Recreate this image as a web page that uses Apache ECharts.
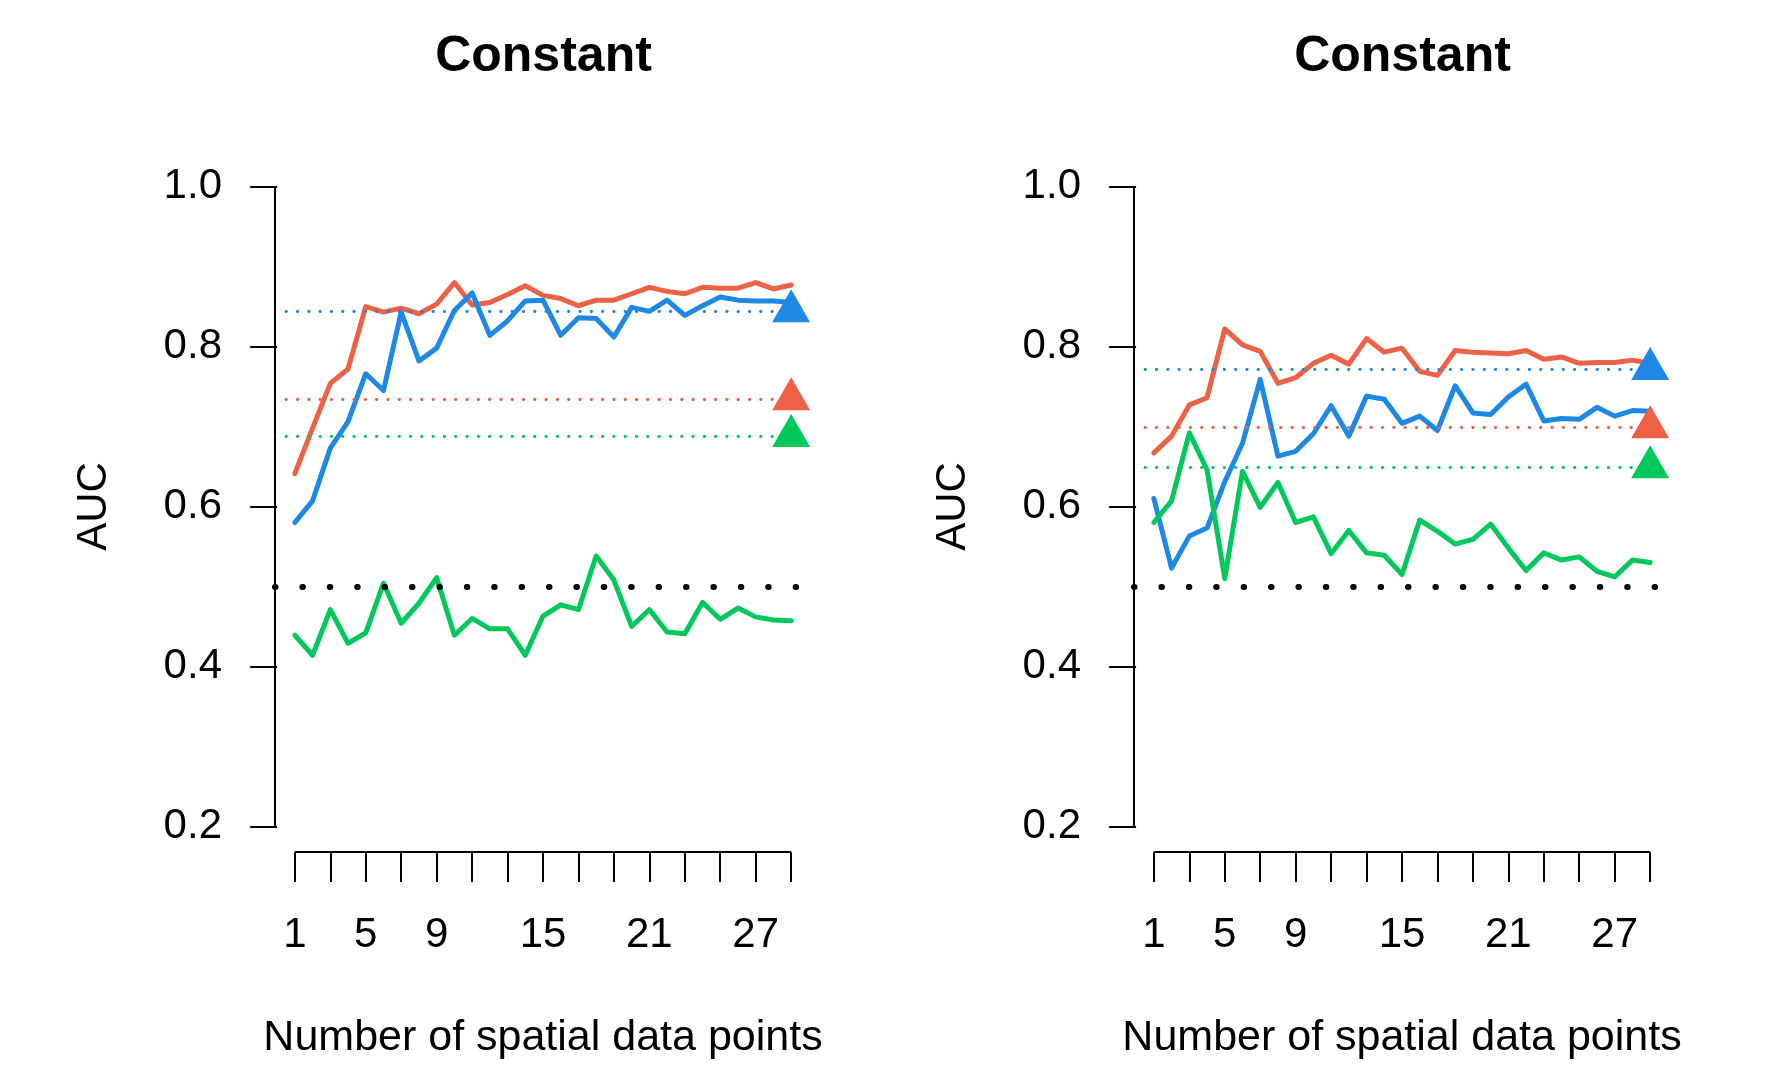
<!DOCTYPE html>
<html>
<head>
<meta charset="utf-8">
<script src="https://cdn.jsdelivr.net/npm/echarts@6/dist/echarts.min.js"></script>
<style>
html,body{margin:0;padding:0;background:#fff;}
#chart{width:1768px;height:1066px;}
</style>
</head>
<body>
<div id="chart"></div>
<script>
// ---- data ----
const xValues = [1,2,3,4,5,6,7,8,9,10,11,12,13,14,15,16,17,18,19,20,21,22,23,24,25,26,27,28,29];
const xTickValues = [1,3,5,7,9,11,13,15,17,19,21,23,25,27,29];
const xLabelValues = [1,5,9,15,21,27];
const yTickValues = [0.2,0.4,0.6,0.8,1.0];
const panelTitles = ["Constant","Constant"];

const leftRed   = [0.641,0.698,0.754,0.772,0.850,0.843,0.848,0.841,0.853,0.880,0.852,0.855,0.865,0.876,0.864,0.860,0.851,0.858,0.858,0.866,0.874,0.869,0.866,0.874,0.873,0.873,0.880,0.872,0.877];
const leftBlue  = [0.580,0.607,0.673,0.706,0.766,0.745,0.843,0.782,0.798,0.845,0.867,0.814,0.832,0.857,0.858,0.814,0.836,0.835,0.812,0.849,0.844,0.858,0.839,0.851,0.862,0.858,0.857,0.857,0.855];
const leftGreen = [0.439,0.414,0.471,0.429,0.442,0.504,0.454,0.479,0.511,0.439,0.460,0.447,0.447,0.414,0.463,0.477,0.471,0.538,0.508,0.450,0.471,0.443,0.441,0.480,0.459,0.473,0.462,0.458,0.457];
const leftRef   = {blue:0.844, red:0.734, green:0.688};

const rightRed   = [0.667,0.688,0.727,0.736,0.822,0.802,0.794,0.754,0.761,0.779,0.789,0.778,0.810,0.793,0.798,0.769,0.764,0.795,0.793,0.792,0.791,0.795,0.784,0.787,0.779,0.780,0.780,0.783,0.779];
const rightBlue  = [0.610,0.523,0.563,0.573,0.631,0.679,0.759,0.663,0.669,0.691,0.726,0.688,0.738,0.734,0.704,0.713,0.695,0.751,0.717,0.715,0.737,0.753,0.707,0.710,0.709,0.724,0.713,0.720,0.719];
const rightGreen = [0.580,0.607,0.692,0.646,0.510,0.644,0.599,0.630,0.580,0.587,0.541,0.570,0.542,0.539,0.515,0.583,0.569,0.553,0.559,0.578,0.548,0.520,0.542,0.533,0.537,0.519,0.512,0.533,0.530];
const rightRef   = {blue:0.772, red:0.699, green:0.649};

const chanceLevel = 0.5;
const refStartX = 0.5;

// ---- style ----
const COL = {red:'#EE6146', blue:'#1E88E5', green:'#00C85A'};
const FONT = '"Liberation Sans", Arial, Helvetica, sans-serif';

// R-style extended ranges (4% each side)
const xLo = xValues[0], xHi = xValues[xValues.length-1];
const xMin = xLo - 0.04*(xHi-xLo), xMax = xHi + 0.04*(xHi-xLo);
const yLo = yTickValues[0], yHi = yTickValues[yTickValues.length-1];
const yMin = yLo - 0.04*(yHi-yLo), yMax = yHi + 0.04*(yHi-yLo);

const pair = arr => arr.map((v,i)=>[xValues[i], v]);

const panels = [
  {left:275, red:leftRed, blue:leftBlue, green:leftGreen, ref:leftRef},
  {left:1134, red:rightRed, blue:rightBlue, green:rightGreen, ref:rightRef}
];
const gridW = 536, gridTop = 161, gridH = 691;

const option = {
  animation:false,
  backgroundColor:'#fff',
  title: panels.map((p,i)=>({
    text: panelTitles[i], left: p.left + gridW/2 - 4.5, top: 27, textAlign:'center',
    textStyle:{fontFamily:FONT, fontSize:50, fontWeight:'bold', color:'#000'}
  })),
  grid: panels.map(p=>({left:p.left, top:gridTop, width:gridW, height:gridH, containLabel:false})),
  xAxis: panels.map((p,i)=>({
    type:'value', gridIndex:i, min:xMin, max:xMax,
    name:'Number of spatial data points', nameLocation:'middle', nameGap:165,
    nameTextStyle:{fontFamily:FONT, fontSize:43, color:'#000'},
    axisLine:{show:false},
    splitLine:{show:false},
    axisTick:{show:true, inside:false, length:30, customValues:xTickValues, lineStyle:{color:'#000', width:2}},
    axisLabel:{show:true, customValues:xLabelValues, margin:62, fontFamily:FONT, fontSize:42, color:'#000'}
  })),
  yAxis: panels.map((p,i)=>({
    type:'value', gridIndex:i, min:yMin, max:yMax,
    name:'AUC', nameLocation:'middle', nameGap:160, nameRotate:90,
    nameTextStyle:{fontFamily:FONT, fontSize:42, color:'#000'},
    axisLine:{show:false},
    splitLine:{show:false},
    axisTick:{show:true, inside:false, length:27, customValues:yTickValues, lineStyle:{color:'#000', width:2}},
    axisLabel:{show:true, customValues:yTickValues, margin:53, fontFamily:FONT, fontSize:42, color:'#000',
      formatter:v=>Number(v).toFixed(1)}
  })),
  series: []
};

panels.forEach((p,i)=>{
  const dotted = (val,color)=>[
    {coord:[refStartX, val], lineStyle:{color:color, width:2.8, type:[0.5,10.8], cap:'round'}},
    {coord:[xHi, val]}
  ];
  option.series.push({
    type:'line', xAxisIndex:i, yAxisIndex:i, data:pair(p.red), symbol:'none', showSymbol:false,
    lineStyle:{color:COL.red, width:5, join:'round', cap:'round'}, z:3,
    markLine:{
      silent:true, symbol:['none','none'], label:{show:false}, animation:false,
      data:[
        // R-style axis lines
        [{coord:[xMin, yLo], lineStyle:{color:'#000', width:2, type:'solid'}},{coord:[xMin, yHi]}],
        [{coord:[xLo, yMin], lineStyle:{color:'#000', width:2, type:'solid'}},{coord:[xHi, yMin]}],
        dotted(p.ref.blue, COL.blue),
        dotted(p.ref.red, COL.red),
        dotted(p.ref.green, COL.green),
        {yAxis:chanceLevel, lineStyle:{color:'#000', width:6, type:[0.5,26.9], cap:'round'}}
      ]
    }
  });
  option.series.push({
    type:'line', xAxisIndex:i, yAxisIndex:i, data:pair(p.blue), symbol:'none', showSymbol:false,
    lineStyle:{color:COL.blue, width:5, join:'round', cap:'round'}, z:3
  });
  option.series.push({
    type:'line', xAxisIndex:i, yAxisIndex:i, data:pair(p.green), symbol:'none', showSymbol:false,
    lineStyle:{color:COL.green, width:5, join:'round', cap:'round'}, z:3
  });
  option.series.push({
    type:'scatter', xAxisIndex:i, yAxisIndex:i, symbol:'triangle', symbolSize:[38,33], symbolOffset:[0,-5.5], z:5,
    itemStyle:{opacity:1},
    data:[
      {value:[xHi, p.ref.blue], itemStyle:{color:COL.blue, opacity:1}},
      {value:[xHi, p.ref.red], itemStyle:{color:COL.red, opacity:1}},
      {value:[xHi, p.ref.green], itemStyle:{color:COL.green, opacity:1}}
    ]
  });
});

const chart = echarts.init(document.getElementById('chart'), null, {renderer:'canvas'});
chart.setOption(option);
</script>
</body>
</html>
